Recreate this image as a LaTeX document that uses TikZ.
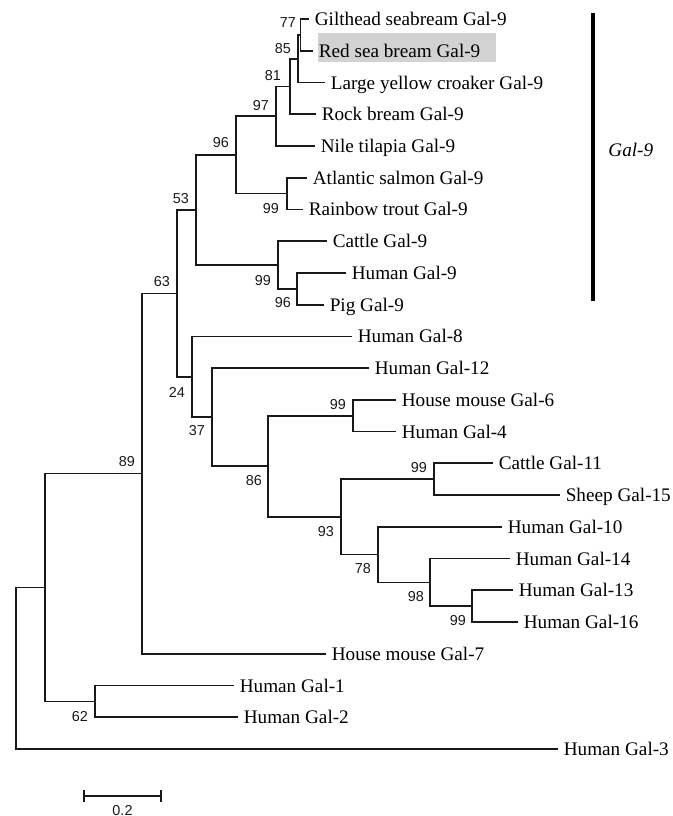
\documentclass[tikz,border=0pt]{standalone}
\usepackage{fontspec}
\setmainfont{Liberation Serif}
\newfontfamily\bsfont{Liberation Sans}
\definecolor{hlgray}{RGB}{210,210,210}
\definecolor{linecol}{RGB}{25,25,25}
\begin{document}
\begin{tikzpicture}[x=0.5pt,y=-0.5pt,
  tree/.style={draw=linecol, line width=0.85pt},
  leaf/.style={anchor=west, inner xsep=2.7pt, inner ysep=0pt, text height=6.5pt, text depth=0pt,
    font=\fontsize{9.6}{11}\selectfont},
  bs/.style={inner sep=0pt, text=linecol, font=\bsfont\fontsize{7.2}{8}\selectfont},
  cladelab/.style={anchor=west, inner sep=0pt, text height=6.5pt, text depth=0pt,
    font=\fontsize{9.6}{11}\selectfont\itshape}]
\useasboundingbox (0,0) rectangle (673,816);

% highlight behind Red sea bream
\fill[hlgray] (318,33) rectangle (496,62);

% internal nodes
\coordinate (nR) at (16,668.3);
\coordinate (nA) at (45,587.5);
\coordinate (n62) at (95,701.4);
\coordinate (n89) at (142,473.6);
\coordinate (n63) at (177,293.4);
\coordinate (n53) at (196,210.0);
\coordinate (n96) at (236,154.9);
\coordinate (n97) at (276,116.2);
\coordinate (n81) at (290,86.4);
\coordinate (n85) at (298,58.7);
\coordinate (n77) at (300.5,34.85);
\coordinate (nST) at (287,193.5);
\coordinate (n99a) at (278,265.0);
\coordinate (n96b) at (297,288.8);
\coordinate (n24) at (192,376.8);
\coordinate (n37) at (212,417.2);
\coordinate (n86) at (268,466.3);
\coordinate (n99b) at (353,415.7);
\coordinate (n93) at (341,516.9);
\coordinate (n99c) at (434,479.2);
\coordinate (n78) at (378,554.6);
\coordinate (n98) at (430,582.4);
\coordinate (n99d) at (472,606.2);

% leaves
\node[leaf] (L0) at (309,19.0) {Gilthead seabream Gal-9};
\node[leaf] (L1) at (313,50.7) {Red sea bream Gal-9};
\node[leaf] (L2) at (325,82.5) {Large yellow croaker Gal-9};
\node[leaf] (L3) at (316,114.2) {Rock bream Gal-9};
\node[leaf] (L4) at (315,145.9) {Nile tilapia Gal-9};
\node[leaf] (L5) at (307,177.7) {Atlantic salmon Gal-9};
\node[leaf] (L6) at (303,209.4) {Rainbow trout Gal-9};
\node[leaf] (L7) at (327,241.2) {Cattle Gal-9};
\node[leaf] (L8) at (346,272.9) {Human Gal-9};
\node[leaf] (L9) at (324,304.7) {Pig Gal-9};
\node[leaf] (L10) at (352,336.4) {Human Gal-8};
\node[leaf] (L11) at (369,368.1) {Human Gal-12};
\node[leaf] (L12) at (396,399.9) {House mouse Gal-6};
\node[leaf] (L13) at (396,431.6) {Human Gal-4};
\node[leaf] (L14) at (493,463.3) {Cattle Gal-11};
\node[leaf] (L15) at (560,495.1) {Sheep Gal-15};
\node[leaf] (L16) at (502,526.8) {Human Gal-10};
\node[leaf] (L17) at (510,558.6) {Human Gal-14};
\node[leaf] (L18) at (513,590.3) {Human Gal-13};
\node[leaf] (L19) at (518,622.0) {Human Gal-16};
\node[leaf] (L20) at (326,653.8) {House mouse Gal-7};
\node[leaf] (L21) at (234,685.5) {Human Gal-1};
\node[leaf] (L22) at (238,717.3) {Human Gal-2};
\node[leaf] (L23) at (558,749.0) {Human Gal-3};

% branches
\draw[tree] (nR) |- (nA);   \draw[tree] (nR) |- (L23.west);
\draw[tree] (nA) |- (n89);  \draw[tree] (nA) |- (n62);
\draw[tree] (n62) |- (L21.west); \draw[tree] (n62) |- (L22.west);
\draw[tree] (n89) |- (n63); \draw[tree] (n89) |- (L20.west);
\draw[tree] (n63) |- (n53); \draw[tree] (n63) |- (n24);
\draw[tree] (n53) |- (n96); \draw[tree] (n53) |- (n99a);
\draw[tree] (n96) |- (n97); \draw[tree] (n96) |- (nST);
\draw[tree] (n97) |- (n81); \draw[tree] (n97) |- (L4.west);
\draw[tree] (n81) |- (n85); \draw[tree] (n81) |- (L3.west);
\draw[tree] (n85) |- (n77); \draw[tree] (n85) |- (L2.west);
\draw[tree] (n77) |- (L0.west); \draw[tree] (n77) |- (L1.west);
\draw[tree] (nST) |- (L5.west); \draw[tree] (nST) |- (L6.west);
\draw[tree] (n99a) |- (L7.west); \draw[tree] (n99a) |- (n96b);
\draw[tree] (n96b) |- (L8.west); \draw[tree] (n96b) |- (L9.west);
\draw[tree] (n24) |- (L10.west); \draw[tree] (n24) |- (n37);
\draw[tree] (n37) |- (L11.west); \draw[tree] (n37) |- (n86);
\draw[tree] (n86) |- (n99b); \draw[tree] (n86) |- (n93);
\draw[tree] (n99b) |- (L12.west); \draw[tree] (n99b) |- (L13.west);
\draw[tree] (n93) |- (n99c); \draw[tree] (n93) |- (n78);
\draw[tree] (n99c) |- (L14.west); \draw[tree] (n99c) |- (L15.west);
\draw[tree] (n78) |- (L16.west); \draw[tree] (n78) |- (n98);
\draw[tree] (n98) |- (L17.west); \draw[tree] (n98) |- (n99d);
\draw[tree] (n99d) |- (L18.west); \draw[tree] (n99d) |- (L19.west);

% bootstrap values
\node[bs] (b77) at (288,23) {77};
\node[bs] (b85) at (283,49) {85};
\node[bs] (b81) at (273,76) {81};
\node[bs] (b97) at (261,106) {97};
\node[bs] (b96) at (221,143) {96};
\node[bs] (bST) at (271,209) {99};
\node[bs] (b53) at (181,199) {53};
\node[bs] (b99a) at (263,281) {99};
\node[bs] (b96b) at (283,303) {96};
\node[bs] (b63) at (162,282) {63};
\node[bs] (b24) at (177,392) {24};
\node[bs] (b37) at (197,431) {37};
\node[bs] (b89) at (127,462) {89};
\node[bs] (b86) at (254,481) {86};
\node[bs] (b99b) at (338,405) {99};
\node[bs] (b99c) at (419,468) {99};
\node[bs] (b93) at (326,532) {93};
\node[bs] (b78) at (363,569) {78};
\node[bs] (b98) at (416,597) {98};
\node[bs] (b99d) at (458,621) {99};
\node[bs] (b62) at (80,717) {62};

% Gal-9 clade bar
\coordinate (g1) at (593,13);
\coordinate (g2) at (593,301);
\draw[draw=black, line width=2pt] (g1) -- (g2);
\node[cladelab] (glab) at (608,150) {Gal-9};

% scale bar
\coordinate (s1) at (84,796);
\coordinate (s2) at (161,796);
\draw[tree] (s1) -- (s2);
\draw[tree] (s1) ++(0,-6) -- ++(0,12);
\draw[tree] (s2) ++(0,-6) -- ++(0,12);
\node[bs, anchor=base] (slab) at (122.5,815.5) {0.2};
\end{tikzpicture}
\end{document}
